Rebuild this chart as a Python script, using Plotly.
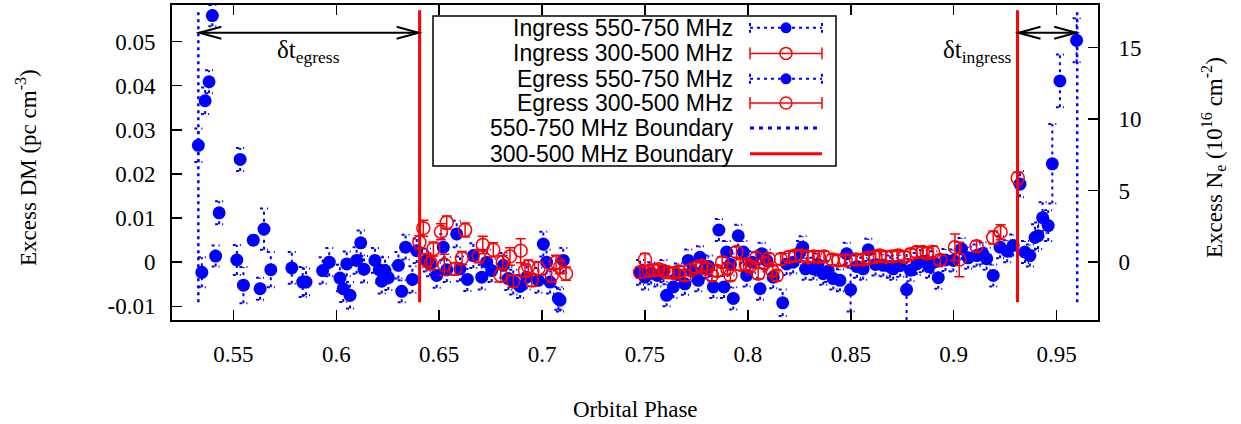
import plotly.graph_objects as go

# ---------------- data ----------------
# Egress, 550-750 MHz (blue filled circles)
egress_hi_phase = [0.5330, 0.5347, 0.5363, 0.5382, 0.5398, 0.5414, 0.5431, 0.5517, 0.5533, 0.5549,
                   0.5597, 0.5630, 0.5649, 0.5682, 0.5784, 0.5837, 0.5853, 0.5934, 0.5966, 0.6018,
                   0.6034, 0.6051, 0.6067, 0.6099, 0.6119, 0.6135, 0.6188, 0.6209, 0.6221, 0.6237,
                   0.6253, 0.6302, 0.6318, 0.6337, 0.6370, 0.6391, 0.6440, 0.6456, 0.6488, 0.6520,
                   0.6537, 0.6585, 0.6601, 0.6637, 0.6666, 0.6707, 0.6731, 0.6755, 0.6812, 0.6836,
                   0.6860, 0.6893, 0.6925, 0.6982, 0.7006, 0.7022, 0.7039, 0.7079, 0.7087, 0.7103]
egress_hi_dm = [0.0265, -0.0023, 0.0366, 0.0409, 0.0559, 0.0014, 0.0112, 0.0005, 0.0233, -0.0052,
                0.0050, -0.0060, 0.0075, -0.0017, -0.0013, -0.0045, -0.0045, -0.0019, 0.0000, -0.0036,
                -0.0060, -0.0004, -0.0075, 0.0004, 0.0044, -0.0016, 0.0004, -0.0017, -0.0043, -0.0019,
                -0.0035, -0.0007, -0.0066, 0.0034, -0.0039, 0.0026, 0.0005, -0.0004, -0.0030, 0.0034,
                -0.0017, 0.0064, -0.0015, -0.0039, 0.0015, -0.0034, 0.0000, -0.0019, -0.0007, -0.0037,
                -0.0045, -0.0055, -0.0034, -0.0041, 0.0041, 0.0000, -0.0045, -0.0082, -0.0086, 0.0004]
egress_hi_err = [0.0038, 0.0034, 0.0030, 0.0026, 0.0024, 0.0024, 0.0026, 0.0034, 0.0026, 0.0041,
                 0.0010, 0.0025, 0.0047, 0.0040, 0.0036, 0.0034, 0.0030, 0.0030, 0.0032, 0.0030,
                 0.0030, 0.0028, 0.0030, 0.0030, 0.0028, 0.0030, 0.0028, 0.0030, 0.0028, 0.0030,
                 0.0028, 0.0030, 0.0025, 0.0028, 0.0030, 0.0028, 0.0026, 0.0028, 0.0028, 0.0030,
                 0.0028, 0.0030, 0.0028, 0.0026, 0.0028, 0.0028, 0.0028, 0.0026, 0.0028, 0.0026,
                 0.0028, 0.0026, 0.0028, 0.0028, 0.0028, 0.0028, 0.0026, 0.0026, 0.0026, 0.0028]

# Egress, 300-500 MHz (red open circles)
egress_lo_phase = [0.6404, 0.6423, 0.6440, 0.6459, 0.6472, 0.6509, 0.6525, 0.6537, 0.6578, 0.6611,
                   0.6626, 0.6692, 0.6712, 0.6763, 0.6799, 0.6809, 0.6844, 0.6860, 0.6896, 0.6917,
                   0.6933, 0.6950, 0.6982, 0.7047, 0.7068, 0.7087, 0.7116]
egress_lo_dm = [0.0045, 0.0077, 0.0004, -0.0002, 0.0030, 0.0069, -0.0006, 0.0090, -0.0015, 0.0009,
                0.0073, 0.0014, 0.0039, 0.0028, -0.0030, 0.0000, 0.0013, -0.0043, 0.0026, -0.0019,
                -0.0010, -0.0041, -0.0014, -0.0030, 0.0000, -0.0011, -0.0026]
egress_lo_err = [0.0015, 0.0018, 0.0015, 0.0015, 0.0016, 0.0018, 0.0024, 0.0015, 0.0014, 0.0015,
                 0.0016, 0.0015, 0.0020, 0.0016, 0.0015, 0.0015, 0.0020, 0.0014, 0.0027, 0.0015,
                 0.0015, 0.0014, 0.0015, 0.0015, 0.0016, 0.0015, 0.0015]

# Ingress, 550-750 MHz (blue filled circles)
ingress_hi_phase = [0.7476, 0.7500, 0.7530, 0.7560, 0.7590, 0.7605, 0.7638, 0.7660, 0.7694, 0.7710,
                    0.7730, 0.7759, 0.7767, 0.7790, 0.7810, 0.7832, 0.7859, 0.7884, 0.7897, 0.7915,
                    0.7929, 0.7953, 0.7978, 0.7994, 0.8020, 0.8059, 0.8067, 0.8091, 0.8123, 0.8169,
                    0.8188, 0.8220, 0.8253, 0.8266, 0.8280, 0.8318, 0.8340, 0.8366, 0.8390, 0.8415,
                    0.8447, 0.8480, 0.8499, 0.8530, 0.8560, 0.8585, 0.8620, 0.8658, 0.8690, 0.8706,
                    0.8740, 0.8771, 0.8790, 0.8820, 0.8850, 0.8880, 0.8901, 0.8925, 0.8960, 0.8998,
                    0.9038, 0.9070, 0.9111, 0.9140, 0.9160, 0.9192, 0.9225, 0.9260, 0.9289, 0.9322,
                    0.9346, 0.9370, 0.9395, 0.9410, 0.9432, 0.9459, 0.9479, 0.9516, 0.9597]
ingress_hi_dm = [-0.0023, -0.0034, -0.0025, -0.0030, -0.0020, -0.0075, -0.0056, -0.0028, -0.0049, 0.0004,
                 -0.0020, -0.0041, 0.0011, -0.0015, -0.0010, -0.0056, 0.0073, -0.0056, 0.0023, -0.0005,
                 -0.0082, 0.0060, 0.0023, -0.0030, 0.0000, -0.0060, 0.0019, 0.0004, -0.0034, -0.0092,
                 -0.0004, 0.0000, 0.0023, 0.0034, -0.0015, -0.0015, -0.0005, -0.0026, -0.0020, -0.0037,
                 -0.0041, 0.0019, -0.0062, -0.0010, -0.0015, 0.0028, -0.0005, -0.0007, -0.0010, -0.0015,
                 -0.0008, -0.0062, -0.0018, -0.0004, 0.0002, -0.0010, 0.0000, -0.0035, 0.0005, 0.0004,
                 0.0030, 0.0010, 0.0015, 0.0020, 0.0008, -0.0030, 0.0034, 0.0025, 0.0038, 0.0177,
                 0.0023, 0.0015, 0.0056, 0.0060, 0.0101, 0.0083, 0.0223, 0.0411, 0.0503]
ingress_hi_err = [0.0028, 0.0028, 0.0025, 0.0025, 0.0025, 0.0025, 0.0025, 0.0025, 0.0025, 0.0025,
                  0.0025, 0.0025, 0.0025, 0.0025, 0.0025, 0.0025, 0.0025, 0.0025, 0.0025, 0.0025,
                  0.0025, 0.0025, 0.0025, 0.0025, 0.0025, 0.0025, 0.0025, 0.0025, 0.0025, 0.0030,
                  0.0025, 0.0025, 0.0025, 0.0025, 0.0025, 0.0025, 0.0025, 0.0025, 0.0025, 0.0025,
                  0.0025, 0.0025, 0.0050, 0.0025, 0.0025, 0.0025, 0.0025, 0.0025, 0.0025, 0.0025,
                  0.0025, 0.0085, 0.0025, 0.0025, 0.0025, 0.0025, 0.0025, 0.0025, 0.0025, 0.0025,
                  0.0025, 0.0025, 0.0025, 0.0025, 0.0025, 0.0025, 0.0025, 0.0025, 0.0025, 0.0030,
                  0.0025, 0.0025, 0.0030, 0.0030, 0.0035, 0.0035, 0.0090, 0.0060, 0.0050]

# Ingress, 300-500 MHz (red open circles)
ingress_lo_phase = [0.7476, 0.7500, 0.7520, 0.7540, 0.7565, 0.7590, 0.7610, 0.7640, 0.7665, 0.7694,
                    0.7720, 0.7750, 0.7775, 0.7800, 0.7825, 0.7850, 0.7875, 0.7900, 0.7915, 0.7945,
                    0.7965, 0.7990, 0.8010, 0.8040, 0.8050, 0.8080, 0.8100, 0.8120, 0.8140, 0.8160,
                    0.8200, 0.8230, 0.8260, 0.8290, 0.8320, 0.8345, 0.8370, 0.8410, 0.8440, 0.8475,
                    0.8525, 0.8560, 0.8590, 0.8620, 0.8640, 0.8670, 0.8700, 0.8730, 0.8760, 0.8790,
                    0.8820, 0.8850, 0.8870, 0.8900, 0.8935, 0.9006, 0.9027, 0.9111, 0.9192, 0.9228,
                    0.9311]
ingress_lo_dm = [-0.0023, 0.0006, -0.0020, -0.0018, -0.0016, -0.0020, -0.0023, -0.0025, -0.0021, -0.0030,
                 -0.0018, -0.0012, -0.0008, -0.0015, -0.0030, -0.0020, 0.0000, -0.0015, -0.0030, 0.0023,
                 -0.0006, -0.0005, -0.0010, 0.0010, -0.0026, -0.0002, 0.0008, -0.0020, -0.0030, 0.0007,
                 0.0012, 0.0015, 0.0015, 0.0012, 0.0013, 0.0012, 0.0013, 0.0006, 0.0004, 0.0004,
                 0.0006, 0.0006, 0.0010, 0.0012, 0.0015, 0.0012, 0.0013, 0.0015, 0.0012, 0.0018,
                 0.0023, 0.0023, 0.0020, 0.0023, 0.0005, 0.0034, 0.0006, 0.0036, 0.0056, 0.0068,
                 0.0191]
ingress_lo_err = [0.0012, 0.0014, 0.0012, 0.0012, 0.0012, 0.0012, 0.0012, 0.0012, 0.0012, 0.0012,
                  0.0012, 0.0012, 0.0012, 0.0012, 0.0012, 0.0012, 0.0012, 0.0012, 0.0012, 0.0012,
                  0.0012, 0.0012, 0.0012, 0.0012, 0.0012, 0.0012, 0.0012, 0.0012, 0.0012, 0.0012,
                  0.0012, 0.0012, 0.0012, 0.0012, 0.0012, 0.0012, 0.0012, 0.0012, 0.0012, 0.0012,
                  0.0012, 0.0012, 0.0013, 0.0012, 0.0012, 0.0012, 0.0012, 0.0012, 0.0012, 0.0012,
                  0.0012, 0.0012, 0.0013, 0.0013, 0.0012, 0.0030, 0.0039, 0.0012, 0.0015, 0.0017,
                  0.0013]

# Boundaries (orbital phase) and their vertical extent (DM)
boundary_550_phase = [0.5330, 0.9600]
boundary_300_phase = [0.6405, 0.9310]
boundary_dm_extent = [-0.0091, 0.0571]
delta_t_dm = 0.052

# Axis ticks
x_tick_vals = [0.55, 0.60, 0.65, 0.70, 0.75, 0.80, 0.85, 0.90, 0.95]
x_tick_text = ["0.55", "0.6", "0.65", "0.7", "0.75", "0.8", "0.85", "0.9", "0.95"]
y_tick_vals = [-0.01, 0.0, 0.01, 0.02, 0.03, 0.04, 0.05]
y_tick_text = ["-0.01", "0", "0.01", "0.02", "0.03", "0.04", "0.05"]
ne_tick_vals = [0, 5, 10, 15]
ne_tick_text = ["0", "5", "10", "15"]

legend_labels = ["Ingress 550-750 MHz", "Ingress 300-500 MHz", "Egress 550-750 MHz",
                 "Egress 300-500 MHz", "550-750 MHz Boundary", "300-500 MHz Boundary"]

# 1 pc cm^-3 = 3.0857e18 cm^-2 = 308.57 x 10^16 cm^-2
DM_TO_NE = 308.57

# ---------------- layout constants ----------------
W, H = 1241, 424
ML, MR, MT, MB = 172, 143, 3, 104
PW, PH = W - ML - MR, H - MT - MB
X_RANGE = [0.5202, 0.9701]
Y_RANGE = [-0.0131, 0.0583]
Y2_RANGE = [Y_RANGE[0] * DM_TO_NE, Y_RANGE[1] * DM_TO_NE]

BLUE = "#0000ff"
RED = "#ff0000"
SERIF = "Liberation Serif"
SANS = "Liberation Sans"

px_x = (X_RANGE[1] - X_RANGE[0]) / PW  # phase per pixel
CAP = 4 * px_x


def dotted_errbars(xs, ys, es, cap):
    ex, ey = [], []
    for x, y, e in zip(xs, ys, es):
        ex += [x, x, None, x - cap, x + cap, None, x - cap, x + cap, None]
        ey += [y - e, y + e, None, y - e, y - e, None, y + e, y + e, None]
    return ex, ey


fig = go.Figure()


def add_blue(xs, ys, es):
    ex, ey = dotted_errbars(xs, ys, es, CAP)
    fig.add_trace(go.Scatter(x=ex, y=ey, mode="lines", showlegend=False, hoverinfo="skip",
                             line=dict(color=BLUE, width=2, dash="3px,4px")))
    fig.add_trace(go.Scatter(x=xs, y=ys, mode="markers", showlegend=False, hoverinfo="skip",
                             marker=dict(symbol="circle", size=13, color=BLUE, line=dict(width=0))))


def add_red(xs, ys, es):
    fig.add_trace(go.Scatter(x=xs, y=ys, mode="markers", showlegend=False, hoverinfo="skip",
                             marker=dict(symbol="circle-open", size=13, color=RED, line=dict(width=1.5)),
                             error_y=dict(type="data", array=es, visible=True, color=RED,
                                          thickness=1.5, width=5)))


add_blue(ingress_hi_phase, ingress_hi_dm, ingress_hi_err)
add_red(ingress_lo_phase, ingress_lo_dm, ingress_lo_err)
add_blue(egress_hi_phase, egress_hi_dm, egress_hi_err)
add_red(egress_lo_phase, egress_lo_dm, egress_lo_err)

# Boundaries
bx, by = [], []
for b in boundary_550_phase:
    bx += [b, b, None]
    by += [boundary_dm_extent[0], boundary_dm_extent[1], None]
fig.add_trace(go.Scatter(x=bx, y=by, mode="lines", showlegend=False, hoverinfo="skip",
                         line=dict(color=BLUE, width=2.5, dash="3px,4px")))
rx, ry = [], []
for b in boundary_300_phase:
    rx += [b, b, None]
    ry += [boundary_dm_extent[0], boundary_dm_extent[1], None]
fig.add_trace(go.Scatter(x=rx, y=ry, mode="lines", showlegend=False, hoverinfo="skip",
                         line=dict(color=RED, width=3)))

# invisible trace on the N_e axis (same data, converted)
all_phase = ingress_hi_phase + egress_hi_phase
all_dm = ingress_hi_dm + egress_hi_dm
fig.add_trace(go.Scatter(x=all_phase, y=[d * DM_TO_NE for d in all_dm], yaxis="y2",
                         mode="markers", marker=dict(opacity=0), showlegend=False, hoverinfo="skip"))

# delta-t arrows
shapes = []
arrow_pairs = [(boundary_550_phase[0], boundary_300_phase[0]),
               (boundary_300_phase[1], boundary_550_phase[1])]
for a, b in arrow_pairs:
    shapes.append(dict(type="line", xref="x", yref="y", x0=a, x1=b, y0=delta_t_dm, y1=delta_t_dm,
                       line=dict(color="black", width=2)))
    shapes.append(dict(type="path", xref="x", yref="y", xsizemode="pixel", ysizemode="pixel",
                       xanchor=a, yanchor=delta_t_dm, path="M 23 6 L 1 0 L 23 -6",
                       line=dict(color="black", width=2)))
    shapes.append(dict(type="path", xref="x", yref="y", xsizemode="pixel", ysizemode="pixel",
                       xanchor=b, yanchor=delta_t_dm, path="M -23 6 L -1 0 L -23 -6",
                       line=dict(color="black", width=2)))


def px_to_paper_x(px):
    return (px - ML) / PW


def px_to_paper_y(py):
    return (H - MB - py) / PH


# legend box
shapes.append(dict(type="rect", xref="paper", yref="paper",
                   x0=px_to_paper_x(433), x1=px_to_paper_x(836),
                   y0=px_to_paper_y(165), y1=px_to_paper_y(14),
                   line=dict(color="black", width=1.5), fillcolor="rgba(0,0,0,0)"))

annotations = []
legend_rows_px = [26, 51.7, 77.3, 101.7, 126.7, 152.7]
for lab, ry_ in zip(legend_labels, legend_rows_px):
    annotations.append(dict(text=lab, xref="paper", yref="paper", x=px_to_paper_x(735),
                            y=px_to_paper_y(ry_), xanchor="right", yanchor="middle",
                            showarrow=False, font=dict(family=SANS, size=23, color="black")))

# legend samples drawn on an overlay axis in pixel units
S0, S1, SM = 750, 822, 786
for i, ry_ in enumerate(legend_rows_px):
    if i in (0, 2):
        fig.add_trace(go.Scatter(x=[S0, S1, None, S0, S0, None, S1, S1],
                                 y=[ry_, ry_, None, ry_ - 5, ry_ + 5, None, ry_ - 5, ry_ + 5],
                                 xaxis="x3", yaxis="y3", mode="lines", showlegend=False, hoverinfo="skip",
                                 line=dict(color=BLUE, width=2, dash="3px,4px")))
        fig.add_trace(go.Scatter(x=[SM], y=[ry_], xaxis="x3", yaxis="y3", mode="markers",
                                 showlegend=False, hoverinfo="skip",
                                 marker=dict(symbol="circle", size=11, color=BLUE)))
    elif i in (1, 3):
        fig.add_trace(go.Scatter(x=[S0, S1, None, S0, S0, None, S1, S1],
                                 y=[ry_, ry_, None, ry_ - 6, ry_ + 6, None, ry_ - 6, ry_ + 6],
                                 xaxis="x3", yaxis="y3", mode="lines", showlegend=False, hoverinfo="skip",
                                 line=dict(color=RED, width=1.5)))
        fig.add_trace(go.Scatter(x=[SM], y=[ry_], xaxis="x3", yaxis="y3", mode="markers",
                                 showlegend=False, hoverinfo="skip",
                                 marker=dict(symbol="circle-open", size=12, color=RED,
                                             line=dict(width=1.5))))
    elif i == 4:
        fig.add_trace(go.Scatter(x=[S0, S1], y=[ry_, ry_], xaxis="x3", yaxis="y3", mode="lines",
                                 showlegend=False, hoverinfo="skip",
                                 line=dict(color=BLUE, width=3, dash="4px,5px")))
    else:
        fig.add_trace(go.Scatter(x=[S0, S1], y=[ry_, ry_], xaxis="x3", yaxis="y3", mode="lines",
                                 showlegend=False, hoverinfo="skip",
                                 line=dict(color=RED, width=3)))

# delta-t labels
annotations.append(dict(text="δt<sub>egress</sub>", xref="x", yref="y",
                        x=(arrow_pairs[0][0] + arrow_pairs[0][1]) / 2, y=0.0477,
                        showarrow=False, xanchor="center", yanchor="middle",
                        font=dict(family=SERIF, size=25, color="black")))
annotations.append(dict(text="δt<sub>ingress</sub>", xref="x", yref="y",
                        x=boundary_300_phase[1] - 4 * px_x, y=0.0477,
                        showarrow=False, xanchor="right", yanchor="middle",
                        font=dict(family=SERIF, size=25, color="black")))

# axis titles
annotations.append(dict(text="Excess DM (pc cm<sup>-3</sup>)", xref="paper", yref="paper",
                        x=px_to_paper_x(27), y=px_to_paper_y(167), textangle=-90,
                        showarrow=False, xanchor="center", yanchor="middle",
                        font=dict(family=SERIF, size=23, color="black")))
annotations.append(dict(text="Excess N<sub>e</sub> (10<sup>16</sup> cm<sup>-2</sup>)", xref="paper",
                        yref="paper", x=px_to_paper_x(1213), y=px_to_paper_y(157), textangle=-90,
                        showarrow=False, xanchor="center", yanchor="middle",
                        font=dict(family=SERIF, size=23, color="black")))
annotations.append(dict(text="Orbital Phase", xref="paper", yref="paper",
                        x=0.5, y=px_to_paper_y(410), showarrow=False,
                        xanchor="center", yanchor="middle",
                        font=dict(family=SERIF, size=23, color="black")))

axis_common = dict(showgrid=False, zeroline=False, showline=True, linecolor="black", linewidth=2,
                   ticks="inside", ticklen=10, tickwidth=1.5, tickcolor="black",
                   tickfont=dict(family=SERIF, size=23, color="black"))

fig.update_layout(
    width=W, height=H,
    margin=dict(l=ML, r=MR, t=MT, b=MB, pad=0),
    paper_bgcolor="white", plot_bgcolor="white",
    showlegend=False, hovermode=False,
    xaxis=dict(range=X_RANGE, tickvals=x_tick_vals, ticktext=x_tick_text, mirror="ticks",
               ticklabelstandoff=12, **axis_common),
    yaxis=dict(range=Y_RANGE, tickvals=y_tick_vals, ticktext=y_tick_text, mirror=True,
               ticklabelstandoff=10, **axis_common),
    yaxis2=dict(range=Y2_RANGE, tickvals=ne_tick_vals, ticktext=ne_tick_text, overlaying="y",
                side="right", anchor="x", ticklabelstandoff=14, **axis_common),
    xaxis3=dict(range=[ML, ML + PW], overlaying="x", visible=False, anchor="y3"),
    yaxis3=dict(range=[MT + PH, MT], overlaying="y", visible=False, anchor="x3"),
    shapes=shapes,
    annotations=annotations,
)

fig.write_html("out.html",
               config={"displayModeBar": False, "staticPlot": True},
               post_script="document.body.style.margin='0px';document.body.style.padding='0px';"
                           "document.documentElement.style.overflow='hidden';")
